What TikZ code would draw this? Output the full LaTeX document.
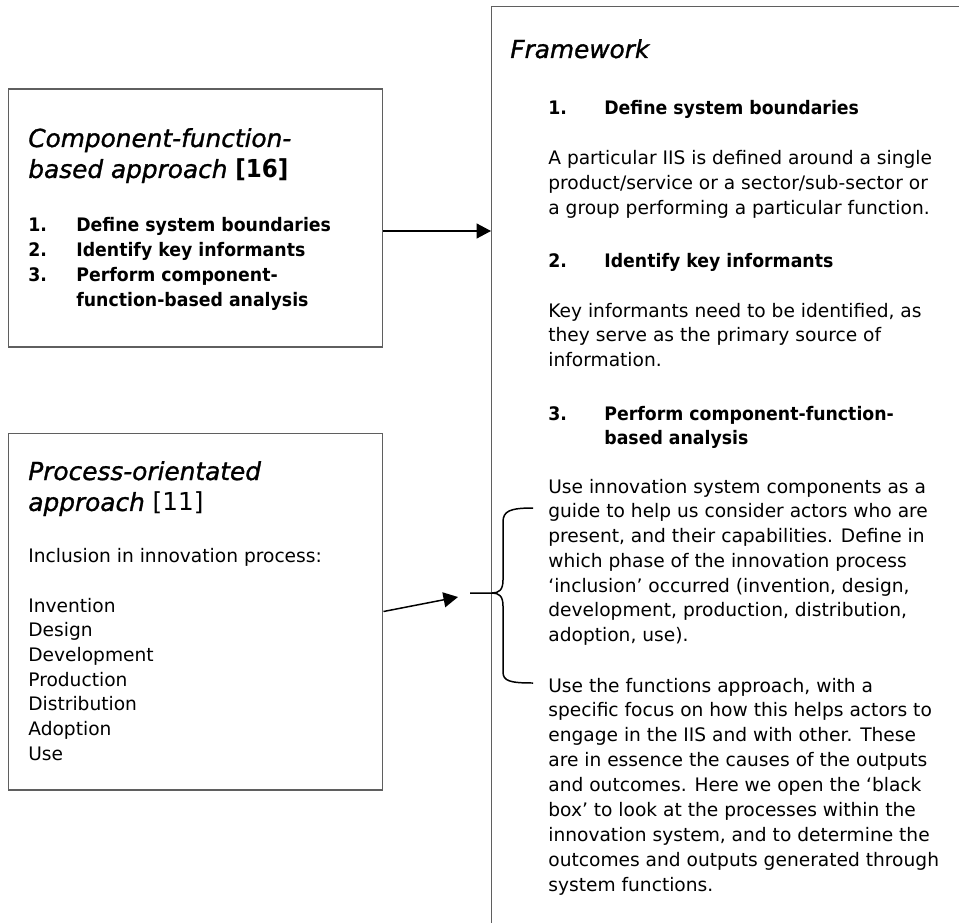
\documentclass[tikz,border=0pt]{standalone}
\usepackage{fontspec}
\setmainfont{DejaVu Sans}[BoldFeatures={FakeStretch=0.93}, ItalicFeatures={FakeBold=1.2}]
\usetikzlibrary{arrows.meta}
\definecolor{bordergray}{RGB}{95,95,95}
\newcommand\vlines[1]{\vtop{\halign{##\hfil\cr#1\crcr}}}
\newcommand\bodyf{\fontsize{10.6}{14.1}\selectfont}
\newcommand\listf{\fontsize{10.6}{14.35}\selectfont}
\newcommand\titlef{\fontsize{14.1}{17.6}\selectfont}
\begin{document}
\begin{tikzpicture}[x=0.02cm,y=-0.02cm,
  box/.style={draw=bordergray, line width=0.6pt, inner sep=0pt},
  txt/.style={anchor=base west, inner sep=0pt, font=\bodyf},
  lst/.style={anchor=base west, inner sep=0pt, font=\listf},
  ttl/.style={anchor=base west, inner sep=0pt, font=\titlef},
  arr/.style={line width=0.85pt, -{Triangle[length=0.29cm, width=0.3cm]}},
  bracestyle/.style={line width=0.85pt}]
\useasboundingbox (0,0) rectangle (959,922);
\fill[white] (0,0) rectangle (959,922);

% boxes
\node[box, minimum width=7.5cm, minimum height=5.16cm] (box1) at (195.5,218) {};
\node[box, minimum width=7.5cm, minimum height=7.14cm] (box2) at (195.5,611.5) {};
\node[box, anchor=north west, minimum width=10.18cm, minimum height=19.08cm] (fw) at (491,6) {};

% box 1 texts
\node[ttl] (box1title) at (28,147) {\vlines{\itshape Component-function-\cr \itshape based approach \upshape\bfseries [16]}};
\node[lst, font=\listf\bfseries] (box1nums) at (28,231) {\vlines{1.\cr 2.\cr 3.}};
\node[lst, font=\listf\bfseries] (box1items) at (76,231) {\vlines{Define system boundaries\cr Identify key informants\cr Perform component-\cr function-based analysis}};

% box 2 texts
\node[ttl] (box2title) at (28,480) {\vlines{\itshape Process-orientated\cr \itshape approach \upshape [11]}};
\node[txt] (box2intro) at (28,562) {Inclusion in innovation process:};
\node[txt, font=\fontsize{10.6}{14.08}\selectfont] (box2list) at (28,612) {\vlines{Invention\cr Design\cr Development\cr Production\cr Distribution\cr Adoption\cr Use}};

% framework texts
\node[ttl] (fwtitle) at (510,58) {\itshape Framework};
\node[txt, font=\bodyf\bfseries] (n1) at (548,115) {1.};
\node[txt, font=\bodyf\bfseries] (h1) at (604,115) {Define system boundaries};
\node[txt] (p1) at (548,165) {\vlines{A particular IIS is defined around a single\cr product/service or a sector/sub-sector or\cr a group performing a particular function.}};
\node[txt, font=\bodyf\bfseries] (n2) at (548,267) {2.};
\node[txt, font=\bodyf\bfseries] (h2) at (604,267) {Identify key informants};
\node[txt] (p2) at (548,317) {\vlines{Key informants need to be identified, as\cr they serve as the primary source of\cr information.}};
\node[txt, font=\bodyf\bfseries] (n3) at (548,420) {3.};
\node[txt, font=\bodyf\bfseries] (h3) at (604,420) {\vlines{Perform component-function-\cr based analysis}};
\node[txt] (p3) at (548,493) {\vlines{Use innovation system components as a\cr guide to help us consider actors who are\cr present, and their capabilities. Define in\cr which phase of the innovation process\cr ‘inclusion’ occurred (invention, design,\cr development, production, distribution,\cr adoption, use).}};
\node[txt, font=\fontsize{10.6}{14.2}\selectfont] (p4) at (548,692) {\vlines{Use the functions approach, with a\cr specific focus on how this helps actors to\cr engage in the IIS and with other. These\cr are in essence the causes of the outputs\cr and outcomes. Here we open the ‘black\cr box’ to look at the processes within the\cr innovation system, and to determine the\cr outcomes and outputs generated through\cr system functions.}};

% connectors
\coordinate (a1y) at (0,231);
\draw[arr] (box1.east |- a1y) -- (fw.west |- a1y);
\coordinate (tipin) at (458,597);
\draw[arr] (box2.east) -- (tipin);

% brace
\coordinate (btop) at (533,508);
\coordinate (bcusp) at (492,593);
\coordinate (bstub) at (470,593);
\coordinate (bbot) at (533,683);
\draw[bracestyle] (btop) .. controls (510,508) and (503,511) .. (503,522) -- (503,580)
  .. controls (503,590) and (499,593) .. (bcusp) -- (bstub);
\draw[bracestyle] (bcusp) .. controls (499,593) and (503,596) .. (503,606) -- (503,672)
  .. controls (503,681) and (510,683) .. (bbot);
\end{tikzpicture}
\end{document}
